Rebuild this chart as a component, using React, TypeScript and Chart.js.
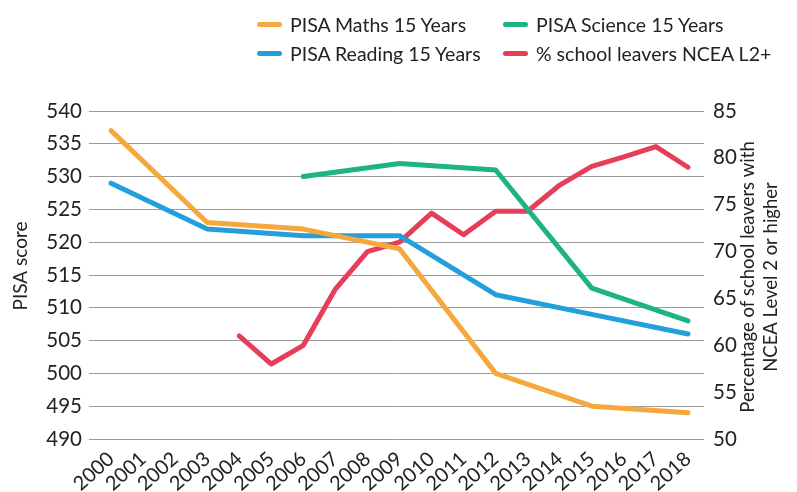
import React, { useEffect, useRef } from "react";
import { Chart, registerables } from "chart.js";

Chart.register(...registerables);

const years = [
  "2000", "2001", "2002", "2003", "2004", "2005", "2006", "2007", "2008", "2009",
  "2010", "2011", "2012", "2013", "2014", "2015", "2016", "2017", "2018",
];
const maths = [537, null, null, 523, null, null, 522, null, null, 519, null, null, 500, null, null, 495, null, null, 494];
const reading = [529, null, null, 522, null, null, 521, null, null, 521, null, null, 512, null, null, 509, null, null, 506];
const science = [null, null, null, null, null, null, 530, null, null, 532, null, null, 531, null, null, 513, null, null, 508];
const ncea = [null, null, null, null, 61, 58, 60, 66, 70, 71, 74.1, 71.8, 74.3, 74.3, 77.1, 79.1, 80.1, 81.2, 79];

const leftMin = 490;
const leftMax = 540;
const rightMin = 50;
const rightMax = 85;
const tickStep = 5;

const seriesNames = ["PISA Maths 15 Years", "PISA Reading 15 Years", "PISA Science 15 Years", "% school leavers NCEA L2+"];
const colors = ["#F5A83E", "#239FDB", "#1DB386", "#E63D58"];

const leftTitle = "PISA score";
const rightTitle = ["Percentage of school leavers with", "NCEA Level 2 or higher"];

const FONT = "Lato, 'Open Sans', sans-serif";
const TEXT = "#222222";

export default function App() {
  const ref = useRef<HTMLCanvasElement | null>(null);

  useEffect(() => {
    const canvas = ref.current;
    if (!canvas) return;
    const titles = {
      id: "axisTitles",
      afterDraw(chart: any) {
        const ctx = chart.ctx;
        ctx.save();
        ctx.fillStyle = TEXT;
        ctx.textAlign = "center";
        ctx.textBaseline = "middle";
        ctx.font = `19px ${FONT}`;
        ctx.save();
        ctx.translate(21, 266);
        ctx.rotate(-Math.PI / 2);
        ctx.fillText(leftTitle, 0, 0);
        ctx.restore();
        ctx.font = `18.5px ${FONT}`;
        const xs = [748, 771];
        rightTitle.forEach((t, i) => {
          ctx.save();
          ctx.translate(xs[i], 277);
          ctx.rotate(-Math.PI / 2);
          ctx.fillText(t, 0, 0);
          ctx.restore();
        });
        ctx.restore();
      },
    };
    const data = [maths, reading, science, ncea];
    const chart = new Chart(canvas, {
      type: "line",
      data: {
        labels: years,
        datasets: data.map((d, i) => ({
          label: seriesNames[i],
          data: d,
          borderColor: colors[i],
          backgroundColor: colors[i],
          borderWidth: 5,
          pointRadius: 0,
          pointHoverRadius: 0,
          spanGaps: true,
          tension: 0,
          borderCapStyle: "round",
          borderJoinStyle: "round",
          yAxisID: i === 3 ? "y1" : "y",
        })),
      },
      options: {
        animation: false,
        responsive: false,
        devicePixelRatio: 1,
        layout: { padding: { top: 111, left: 0, right: 0, bottom: 0 } },
        plugins: {
          legend: { display: false },
          tooltip: { enabled: false },
        },
        scales: {
          x: {
            type: "category",
            offset: true,
            grid: { display: false, drawTicks: false },
            border: { display: false },
            ticks: {
              autoSkip: false,
              minRotation: 42,
              maxRotation: 42,
              padding: 8,
              color: TEXT,
              font: { family: FONT, size: 20 },
            },
            afterFit: (s: any) => {
              s.height = 53;
            },
          },
          y: {
            position: "left",
            min: leftMin,
            max: leftMax,
            ticks: {
              stepSize: tickStep,
              padding: 7,
              color: TEXT,
              font: { family: FONT, size: 20.5 },
            },
            grid: { color: "#9c9c9c", lineWidth: 1, tickLength: 6, drawTicks: true, tickColor: "#9c9c9c" },
            border: { display: false },
            afterFit: (s: any) => {
              s.width = 95;
            },
          },
          y1: {
            position: "right",
            min: rightMin,
            max: rightMax,
            ticks: {
              stepSize: tickStep,
              padding: 9,
              color: TEXT,
              font: { family: FONT, size: 20.5 },
            },
            grid: { drawOnChartArea: false, drawTicks: false },
            border: { display: false },
            afterFit: (s: any) => {
              s.width = 93;
            },
          },
        },
      },
      plugins: [titles],
    } as any);
    return () => chart.destroy();
  }, []);

  const legendItems = [
    { i: 0, left: 257, top: 24 },
    { i: 2, left: 503, top: 24 },
    { i: 1, left: 257, top: 53 },
    { i: 3, left: 503, top: 53 },
  ];

  return (
    <div style={{ position: "absolute", left: 0, top: 0, width: 797, height: 492, overflow: "hidden", background: "#fff" }}>
      <canvas ref={ref} width={797} height={492} style={{ position: "absolute", left: 0, top: 0, width: 797, height: 492 }} />
      {legendItems.map(({ i, left, top }) => (
        <div
          key={i}
          style={{
            position: "absolute",
            left,
            top: top - 12,
            height: 24,
            display: "flex",
            alignItems: "center",
            fontFamily: FONT,
            fontSize: 19.5,
            color: TEXT,
            whiteSpace: "nowrap",
          }}
        >
          <span style={{ display: "inline-block", width: 25, height: 5, borderRadius: 3, background: colors[i], marginRight: 8 }} />
          <span>{seriesNames[i]}</span>
        </div>
      ))}
    </div>
  );
}
